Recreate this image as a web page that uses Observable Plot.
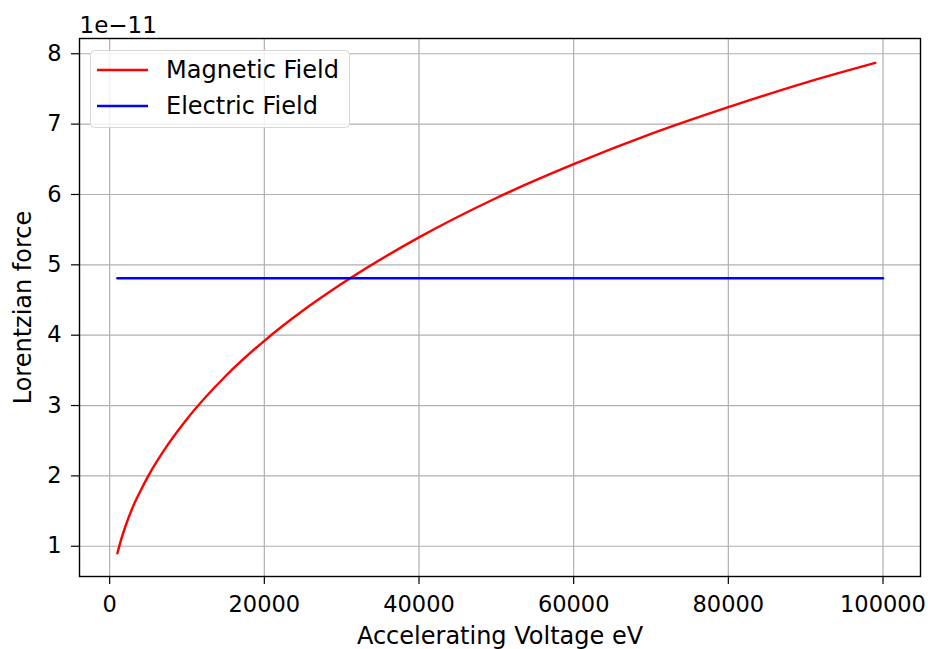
<!DOCTYPE html>
<html><head><meta charset="utf-8">
<script src="https://cdn.jsdelivr.net/npm/d3@7"></script>
<script src="https://cdn.jsdelivr.net/npm/@observablehq/plot@0.6"></script>
<style>
html,body{margin:0;padding:0;background:#fff;}
#wrap{position:relative;width:928px;height:649px;font-family:"DejaVu Sans",sans-serif;}
#legend{position:absolute;left:90px;top:50px;}
</style></head><body><div id="wrap"></div>
<script>
// Magnetic field series (accelerating voltage in eV, force in units of 1e-11)
const voltage = [1000, 1500, 2000, 3000, 4000, 5000, 7500, 10000, 15000, 20000, 25000, 30000, 40000, 50000, 60000, 70000, 80000, 90000, 99000];
const magneticForce = [0.90, 1.10, 1.27, 1.56, 1.79, 2.00, 2.44, 2.81, 3.42, 3.92, 4.35, 4.73, 5.39, 5.95, 6.43, 6.86, 7.24, 7.59, 7.87];
// Electric field series
const electricVoltage = [1000, 100000];
const electricForce = [4.81, 4.81];
// Ticks and labels
const xTicks = [0, 20000, 40000, 60000, 80000, 100000];
const yTicks = [1, 2, 3, 4, 5, 6, 7, 8];
const seriesNames = ["Magnetic Field", "Electric Field"];
const seriesColors = ["#ff0000", "#0000ff"];
const xLabel = "Accelerating Voltage eV";
const yLabel = "Lorentzian force";
const offsetLabel = "1e\u221211";

const magneticData = voltage.map((v, i) => ({v, f: magneticForce[i]}));
const electricData = electricVoltage.map((v, i) => ({v, f: electricForce[i]}));

const chart = Plot.plot({
  width: 928,
  height: 649,
  marginLeft: 79,
  marginRight: 8,
  marginTop: 38,
  marginBottom: 73,
  style: {fontFamily: "DejaVu Sans, sans-serif", fontSize: "22.5px", color: "black", background: "white"},
  x: {domain: [-3900, 104850]},
  y: {domain: [0.57, 8.217]},
  marks: [
    Plot.gridX(xTicks, {stroke: "#b0b0b0", strokeOpacity: 1, strokeWidth: 1.2}),
    Plot.gridY(yTicks, {stroke: "#b0b0b0", strokeOpacity: 1, strokeWidth: 1.2}),
    Plot.line(magneticData, {x: "v", y: "f", stroke: seriesColors[0], strokeWidth: 2.4, curve: "monotone-x"}),
    Plot.line(electricData, {x: "v", y: "f", stroke: seriesColors[1], strokeWidth: 2.4}),
    Plot.frame({stroke: "black", strokeWidth: 1.4}),
    Plot.axisX(xTicks, {tickFormat: d => String(d), tickSize: 8, tickPadding: 12, label: null, strokeWidth: 1.2}),
    Plot.axisY(yTicks, {tickFormat: d => String(d), tickSize: 8, tickPadding: 10, label: null, strokeWidth: 1.2}),
    Plot.text([xLabel], {frameAnchor: "bottom", textAnchor: "middle", lineAnchor: "bottom", dy: 67, fontSize: 24, fill: "black"}),
    Plot.text([yLabel], {frameAnchor: "left", textAnchor: "middle", lineAnchor: "bottom", rotate: -90, dx: -49, fontSize: 24, fill: "black"}),
    Plot.text([offsetLabel], {frameAnchor: "top-left", textAnchor: "start", lineAnchor: "bottom", dy: -6, fontSize: 23, fill: "black"})
  ]
});
const wrap = document.getElementById("wrap");
wrap.appendChild(chart);

// Legend
const leg = d3.select(wrap).append("svg").attr("id", "legend")
  .attr("width", 264).attr("height", 82)
  .style("font-family", "DejaVu Sans, sans-serif").style("font-size", "24px");
leg.append("rect").attr("x", 0.5).attr("y", 0.5).attr("width", 259).attr("height", 77)
  .attr("rx", 4).attr("fill", "white").attr("fill-opacity", 0.8).attr("stroke", "#d6d6d6");
seriesNames.forEach((name, i) => {
  const y = 20 + i * 36;
  leg.append("line").attr("x1", 7).attr("x2", 58).attr("y1", y).attr("y2", y)
    .attr("stroke", seriesColors[i]).attr("stroke-width", 2.4);
  leg.append("text").attr("x", 76).attr("y", y).attr("dy", "0.35em").attr("fill", "black").text(name);
});
</script></body></html>
